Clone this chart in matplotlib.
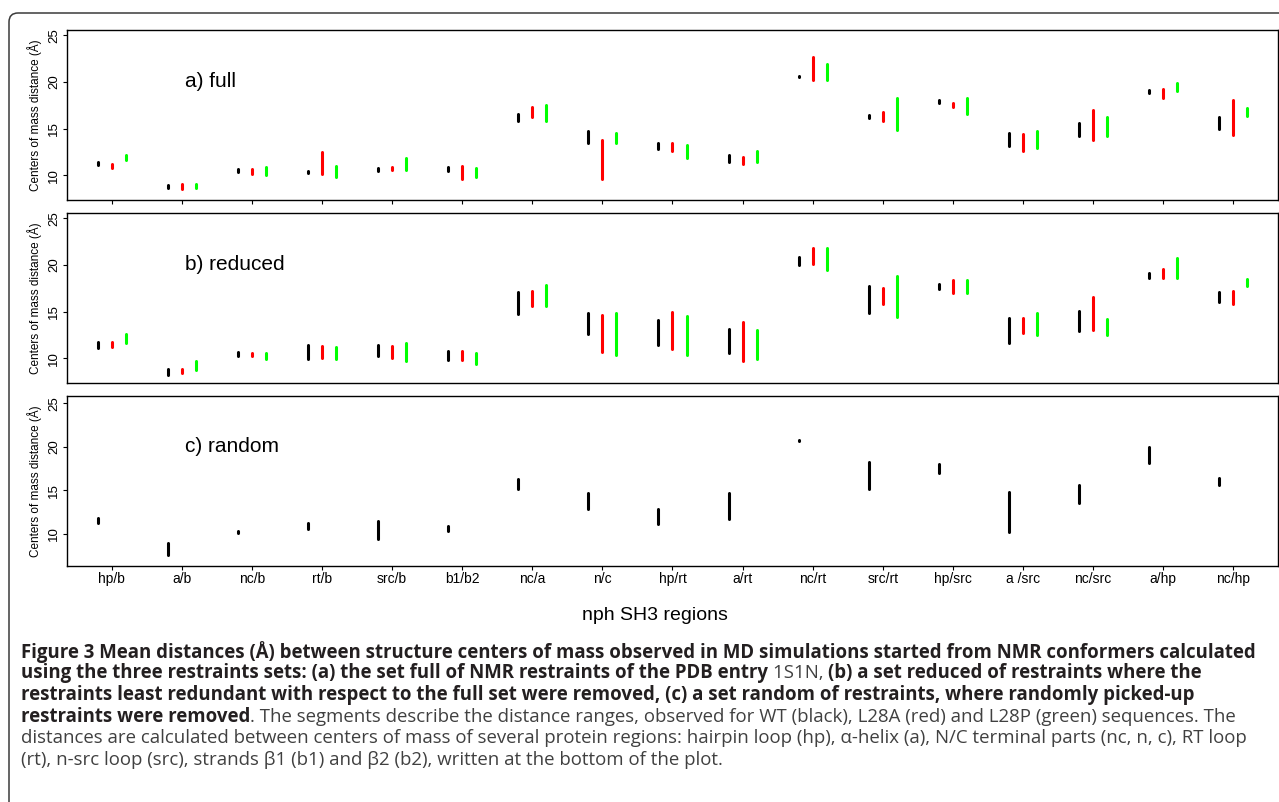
import matplotlib
matplotlib.use("Agg")
import matplotlib.pyplot as plt
from matplotlib.patches import FancyBboxPatch

regions = ["hp/b", "a/b", "nc/b", "rt/b", "src/b", "b1/b2", "nc/a", "n/c", "hp/rt",
           "a/rt", "nc/rt", "src/rt", "hp/src", "a /src", "nc/src", "a/hp", "nc/hp"]

# a) full  -- distance ranges (low / high) for WT, L28A, L28P
full_wt_lo = [11.05, 8.6, 10.4, 10.25, 10.5, 10.5, 15.85, 13.5, 12.8, 11.4, 20.55, 16.1, 17.7, 13.1, 14.2, 18.8, 14.95]
full_wt_hi = [11.4, 9.0, 10.65, 10.45, 10.75, 10.9, 16.55, 14.7, 13.45, 12.15, 20.65, 16.45, 18.1, 14.55, 15.55, 19.1, 16.25]
full_a_lo = [10.8, 8.55, 10.15, 10.15, 10.6, 9.6, 16.2, 9.65, 12.6, 11.25, 20.2, 15.8, 17.3, 12.6, 13.8, 18.3, 14.35]
full_a_hi = [11.2, 9.1, 10.65, 12.5, 10.85, 11.0, 17.3, 13.8, 13.5, 12.0, 22.7, 16.75, 17.75, 14.4, 16.95, 19.2, 18.1]
full_p_lo = [11.6, 8.65, 10.05, 9.85, 10.55, 9.85, 15.85, 13.4, 11.8, 11.4, 20.2, 14.8, 16.55, 12.9, 14.2, 19.0, 16.35]
full_p_hi = [12.2, 9.1, 10.85, 10.95, 11.85, 10.8, 17.5, 14.5, 13.2, 12.6, 21.95, 18.25, 18.25, 14.75, 16.2, 19.85, 17.25]

# b) reduced
red_wt_lo = [11.15, 8.2, 10.25, 9.9, 10.2, 9.8, 14.7, 12.6, 11.4, 10.6, 20.0, 14.9, 17.4, 11.6, 12.9, 18.6, 16.05]
red_wt_hi = [11.7, 8.9, 10.7, 11.4, 11.4, 10.8, 17.05, 14.9, 14.1, 13.15, 20.9, 17.7, 17.95, 14.35, 15.05, 19.15, 17.05]
red_a_lo = [11.25, 8.4, 10.25, 10.05, 10.05, 9.8, 15.65, 10.7, 11.0, 9.7, 20.1, 15.8, 17.0, 12.7, 13.0, 18.65, 15.8]
red_a_hi = [11.7, 8.9, 10.6, 11.3, 11.3, 10.8, 17.2, 14.65, 14.95, 13.85, 21.8, 17.5, 18.4, 14.35, 16.6, 19.55, 17.25]
red_p_lo = [11.65, 8.7, 9.9, 9.9, 9.7, 9.35, 15.6, 10.35, 10.35, 9.9, 19.5, 14.45, 17.0, 12.45, 12.5, 18.65, 17.7]
red_p_hi = [12.65, 9.75, 10.6, 11.2, 11.65, 10.55, 17.85, 14.85, 14.55, 13.05, 21.8, 18.8, 18.4, 14.9, 14.2, 20.8, 18.5]

# c) random (WT only)
rnd_wt_lo = [11.3, 7.6, 10.15, 10.55, 9.45, 10.35, 15.15, 12.85, 11.15, 11.7, 20.65, 15.15, 17.05, 10.25, 13.6, 18.15, 15.65]
rnd_wt_hi = [11.8, 9.0, 10.3, 11.3, 11.45, 10.85, 16.35, 14.65, 12.9, 14.75, 20.8, 18.25, 18.0, 14.85, 15.65, 20.0, 16.45]

W, H = 1279, 802
fig = plt.figure(figsize=(W / 100, H / 100), dpi=100)
plt.rcParams["font.family"] = ["Liberation Sans", "DejaVu Sans"]


def px_axes(left, top, right, bottom):
    return fig.add_axes([left / W, 1 - bottom / H, (right - left) / W, (bottom - top) / H])


ax_a = px_axes(67, 30, 1278, 200)
ax_b = px_axes(67, 213, 1278, 383)
ax_c = px_axes(67, 396, 1278, 566)

x = list(range(1, len(regions) + 1))
off = 0.2
lw = 2.2

panels = [
    (ax_a, "a) full", [(full_wt_lo, full_wt_hi, "black", -off), (full_a_lo, full_a_hi, "#ff0000", 0),
                       (full_p_lo, full_p_hi, "#00ff00", off)], (7.35, 25.55)),
    (ax_b, "b) reduced", [(red_wt_lo, red_wt_hi, "black", -off), (red_a_lo, red_a_hi, "#ff0000", 0),
                          (red_p_lo, red_p_hi, "#00ff00", off)], (7.35, 25.57)),
    (ax_c, "c) random", [(rnd_wt_lo, rnd_wt_hi, "black", -off)], (6.3, 25.85)),
]

for ax, title, series, ylim in panels:
    for lo, hi, col, dx in series:
        ax.vlines([xi + dx for xi in x], lo, hi, colors=col, linewidth=lw, capstyle="round")
    ax.set_xlim(0.36, 17.64)
    ax.set_ylim(*ylim)
    ax.set_yticks([10, 15, 20, 25])
    ax.tick_params(axis="y", direction="out", length=3, width=0.8, labelsize=9.5,
                   labelrotation=90, pad=2)
    for lab in ax.get_yticklabels():
        lab.set_verticalalignment("center")
    ax.set_xticks(x)
    ax.tick_params(axis="x", direction="out", length=3, width=0.8, labelsize=10, pad=1.5)
    for sp in ax.spines.values():
        sp.set_linewidth(1.0)
        sp.set_color("black")
    ax.text(2.05, 20, title, fontsize=15, ha="left", va="center")
    pos = ax.get_position()
    fig.text(35 / W, (pos.y0 + pos.y1) / 2, "Centers of mass distance (Å)",
             rotation=90, ha="center", va="center", fontsize=8.5)

ax_a.set_xticklabels([])
ax_b.tick_params(axis="x", length=0, labelbottom=False)
ax_c.set_xticklabels(regions)

fig.text(655 / W, 1 - 615 / H, "nph SH3 regions", fontsize=14, ha="center", va="center")

# outer frame with rounded corner
frame = FancyBboxPatch((0.09, -0.3), 14.0, (H - 13) / 100 + 0.3,
                       boxstyle="round,pad=0,rounding_size=0.09",
                       transform=fig.dpi_scale_trans, fill=False,
                       edgecolor="#3a3a3a", linewidth=1.1)
fig.add_artist(frame)

# caption, mixing bold and regular runs
cap_font = ["Open Sans", "DejaVu Sans"]
cap_size = 13.4
caption = [
    (652, [("Figure 3 Mean distances (Å) between structure centers of mass observed in MD simulations started from NMR conformers calculated", "bold")]),
    (673, [("using the three restraints sets: (a) the set full of NMR restraints of the PDB entry ", "bold"),
           ("1S1N, ", "normal"), ("(b) a set reduced of restraints where the", "bold")]),
    (695, [("restraints least redundant with respect to the full set were removed, (c) a set random of restraints, where randomly picked-up", "bold")]),
    (717, [("restraints were removed", "bold"),
           (". The segments describe the distance ranges, observed for WT (black), L28A (red) and L28P (green) sequences. The", "normal")]),
    (738, [("distances are calculated between centers of mass of several protein regions: hairpin loop (hp), α-helix (a), N/C terminal parts (nc, n, c), RT loop", "normal")]),
    (760, [("(rt), n-src loop (src), strands β1 (b1) and β2 (b2), written at the bottom of the plot.", "normal")]),
]

renderer = fig.canvas.get_renderer()
for ypix, runs in caption:
    xpix = 21
    for s, wt in runs:
        col = "#231f20" if wt == "bold" else "#404040"
        t = fig.text(xpix / W, 1 - ypix / H, s, fontsize=cap_size, fontweight=wt,
                     family=cap_font, color=col, ha="left", va="center")
        bb = t.get_window_extent(renderer)
        xpix = bb.x1

fig.savefig("out.png", dpi=100)
